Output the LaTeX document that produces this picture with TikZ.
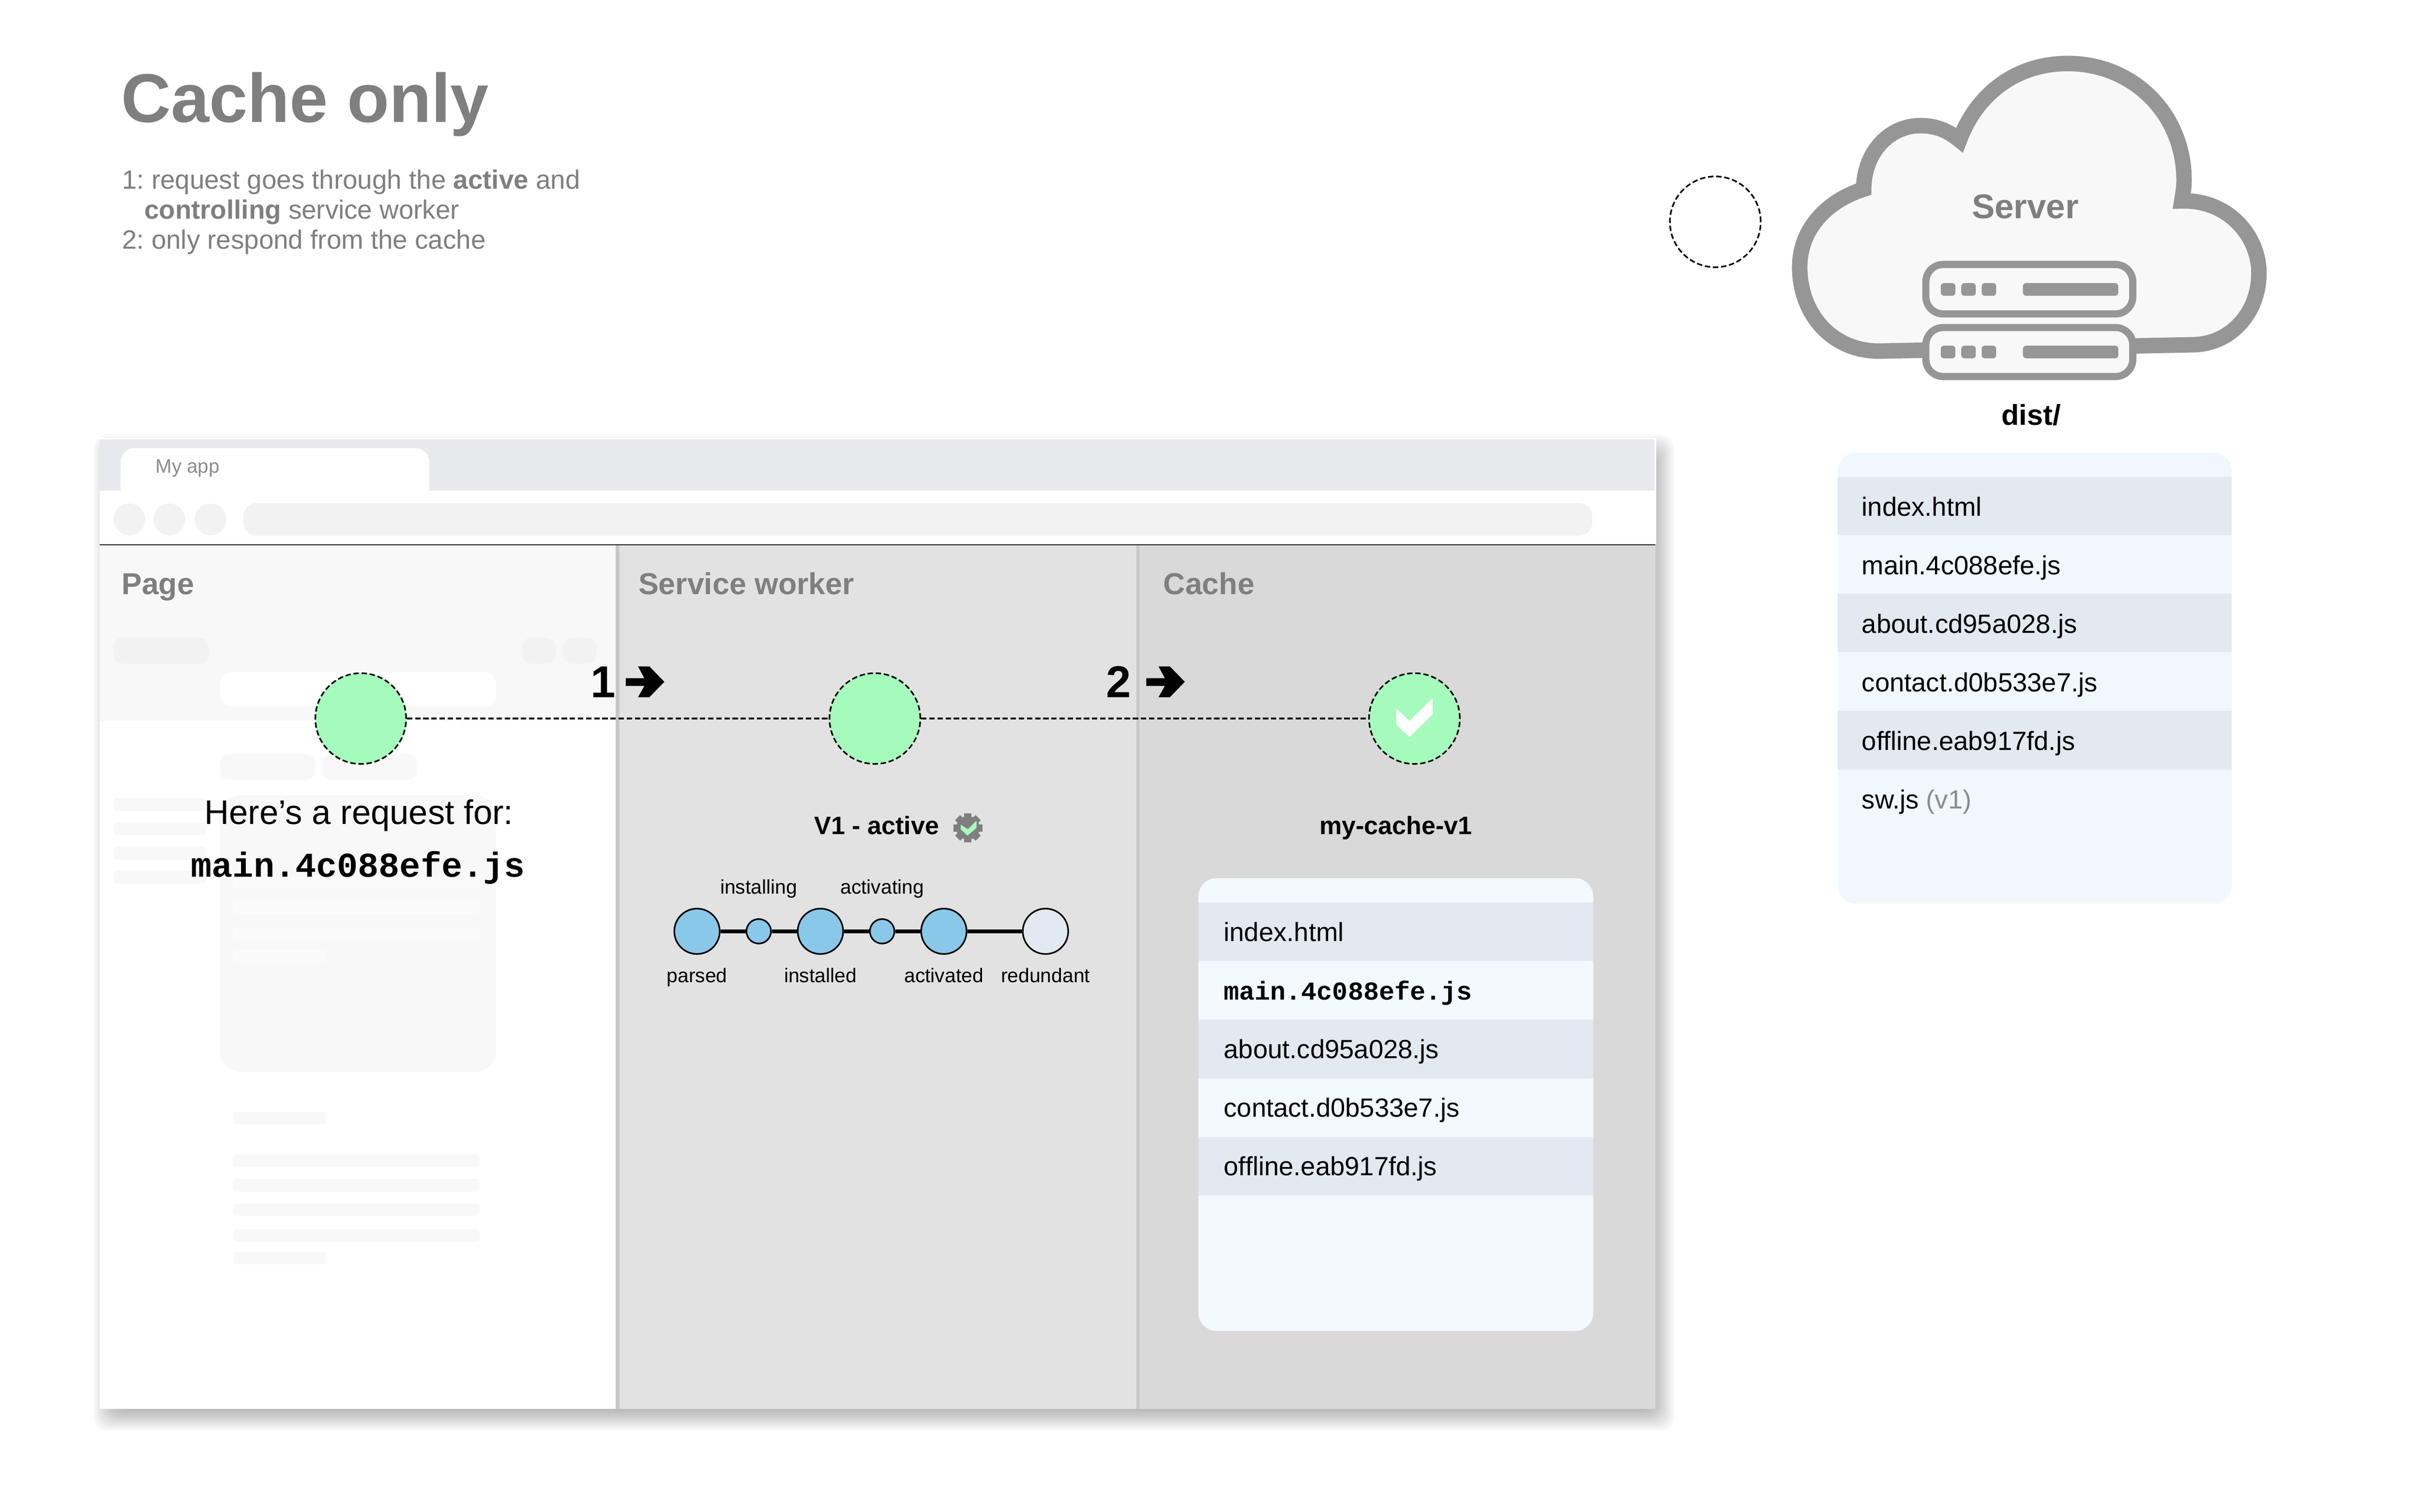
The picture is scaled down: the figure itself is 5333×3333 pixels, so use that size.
\documentclass[tikz,border=0pt]{standalone}
\usepackage{fontspec}
\setmainfont{Liberation Sans}
\setmonofont{Liberation Mono}
\frenchspacing
\definecolor{txtgray}{HTML}{7F7F7F}
\definecolor{cloudgray}{HTML}{969696}
\definecolor{cloudfill}{HTML}{F8F8F8}
\definecolor{reqgreen}{HTML}{A5FBBB}
\definecolor{lifeblue}{HTML}{89C8E8}
\definecolor{rowdark}{HTML}{E2E9F0}
\definecolor{rowlight}{HTML}{F0F7FD}
\definecolor{cachelight}{HTML}{F2F9FF}
\definecolor{strip}{HTML}{E8E9ED}
\definecolor{divider}{HTML}{C8C8C8}
\definecolor{swbg}{HTML}{E2E2E2}
\definecolor{cachebg}{HTML}{D9D9D9}
\definecolor{skelA}{HTML}{F2F2F2}
\definecolor{skelB}{HTML}{F8F8F8}
\definecolor{skelC}{HTML}{FAFAFA}
\tikzset{
  txt/.style={inner sep=0pt,outer sep=0pt,anchor=base west},
  ctxt/.style={inner sep=0pt,outer sep=0pt,anchor=base},
  titletxt/.style={txt,text=txtgray,font=\fontsize{43.2}{50}\bfseries\selectfont},
  subtxt/.style={txt,text=txtgray,font=\fontsize{16.6}{20}\selectfont},
  headtxt/.style={txt,text=txtgray,font=\fontsize{19}{22}\bfseries\selectfont},
  boldlabel/.style={ctxt,font=\fontsize{15.8}{18}\bfseries\selectfont},
  numtxt/.style={ctxt,font=\fontsize{28}{32}\bfseries\selectfont},
  lifetxt/.style={ctxt,font=\fontsize{12.4}{15}\selectfont},
  filetxt/.style={txt,font=\fontsize{16.5}{20}\selectfont},
  filebold/.style={txt,font=\fontsize{16.2}{20}\ttfamily\bfseries\selectfont},
  reqcircle/.style={circle,draw=black,fill=reqgreen,dash pattern=on 3.4pt off 1.7pt,line width=1pt,minimum size=2cm,inner sep=0pt},
  reqline/.style={draw=black,dash pattern=on 3.4pt off 1.7pt,line width=1pt},
  lifebig/.style={circle,draw=black,fill=lifeblue,line width=1pt,minimum size=1cm,inner sep=0pt},
  lifesmall/.style={circle,draw=black,fill=lifeblue,line width=1pt,minimum size=.54cm,inner sep=0pt},
  lifeline/.style={draw=black,line width=2.3pt},
  skelr/.style={rounded corners=.06cm},
  rack/.style={draw=cloudgray,fill=cloudfill,line width=4.5pt,rounded corners=.38cm},
  rackpart/.style={fill=cloudgray,rounded corners=.07cm},
}
\begin{document}
\begin{tikzpicture}[x=0.01cm,y=-0.01cm]
\useasboundingbox (0,0) rectangle (5333,3333);
\fill[white] (0,0) rectangle (5333,3333);
% shadow of browser
\foreach \n in {1,...,18}{
  \pgfmathsetmacro{\e}{36-4*\n}
  \fill[black,opacity=.022,rounded corners=.3cm] (238-\e,990-\e) rectangle (3658+\e,3122+\e);
}
% browser
\fill[white] (220,965) rectangle (3650,3106);
\fill[strip] (220,968) rectangle (3646,1082);
\fill[white,rounded corners=.3cm] (266,1082) -- (266,988) -- (946,988) -- (946,1082) -- cycle;
\fill[white] (266,1050) rectangle (946,1082);
\node[txt,text=txtgray!90,font=\fontsize{12.2}{15}\selectfont] (tab) at (343,1043) {My app};
\foreach \x in {285,373,464}{\fill[skelA] (\x,1145) circle (35);}
\fill[skelA,rounded corners=.3cm] (536,1109) rectangle (3509,1181);
% columns
\fill[skelB] (220,1201) rectangle (1357,1589);
\fill[swbg] (1365,1201) rectangle (2504,3106);
\fill[cachebg] (2511,1201) rectangle (3648,3106);
\fill[divider] (1357,1201) rectangle (1365,3106);
\fill[divider] (2504,1201) rectangle (2511,3106);
\fill[divider] (3648,1201) rectangle (3654,3106);
\draw[black,line width=.4pt] (220,1201) -- (3648,1201);
% skeleton
\fill[skelA,rounded corners=.2cm] (250,1406) rectangle (460,1463);
\fill[skelA,rounded corners=.2cm] (1151,1406) rectangle (1225,1463);
\fill[skelA,rounded corners=.2cm] (1241,1406) rectangle (1315,1463);
\fill[white,rounded corners=.25cm] (485,1482) rectangle (1093,1557);
\fill[skelB,rounded corners=.2cm] (485,1663) rectangle (695,1719);
\fill[skelB,rounded corners=.2cm] (710,1663) rectangle (920,1719);
\fill[skelB,rounded corners=.45cm] (485,1753) rectangle (1093,2363);
\foreach \a/\b in {1759/1788,1814/1841,1867/1895,1920/1948}{\fill[skelB,skelr] (250,\a) rectangle (453,\b);}
\foreach \a/\b in {1932/1960,1987/2015,2044/2073}{\fill[skelC,skelr] (513,\a) rectangle (1057,\b);}
\fill[skelC,skelr] (513,2094) rectangle (718,2122);
\fill[skelB,skelr] (513,2451) rectangle (718,2479);
\foreach \a/\b in {2545/2572,2599/2627,2653/2680,2710/2738}{\fill[skelB,skelr] (513,\a) rectangle (1057,\b);}
\fill[skelB,skelr] (513,2760) rectangle (718,2787);
% heads
\node[titletxt] (title) at (267,269) {Cache only};
\node[subtxt] (s1) at (269,417) {1: request goes through the \textbf{active} and};
\node[subtxt] (s2) at (318,483) {\textbf{controlling} service worker};
\node[subtxt] (s3) at (269,549) {2: only respond from the cache};
\node[headtxt] (hpage) at (268,1310) {Page};
\node[headtxt] (hsw) at (1407,1310) {Service worker};
\node[headtxt] (hcache) at (2564,1310) {Cache};
% request
\node[reqcircle] (c1) at (795,1584) {};
\node[reqcircle] (c2) at (1928,1584) {};
\node[reqcircle] (c3) at (3117,1584) {};
\draw[reqline] (c1) -- (c2);
\draw[reqline] (c2) -- (c3);
\fill[white] (3077,1562) -- (3106,1589) -- (3157,1539.5) -- (3157,1575) -- (3106,1625) -- (3077,1597) -- cycle;
\node[numtxt] (n1) at (1329,1537) {1};
\node[numtxt] (n2) at (2465,1537) {2};
\foreach \d in {0,1147}{
  \fill[black,xshift=\d*0.01cm] (1379,1495) -- (1420,1495) -- (1406,1469) -- (1431,1469) -- (1464,1503) -- (1431,1537) -- (1406,1537) -- (1420,1512) -- (1379,1512) -- cycle;
}
\node[ctxt,font=\fontsize{21.4}{24}\selectfont] (req1) at (791,1817) {Here’s a request for:};
\node[ctxt,font=\fontsize{21.8}{24}\ttfamily\bfseries\selectfont] (req2) at (789,1933) {main.4c088efe.js};
% V1
\node[boldlabel] (v1) at (1932,1839) {V1 - active};
\fill[txtgray] (2133,1825) circle (26);
\foreach \a in {0,45,90,135}{
  \fill[txtgray,rotate around={\a:(2133,1825)}] (2125,1793) rectangle (2141,1857);
}
\fill[reqgreen] (2117,1818) -- (2133,1828) -- (2152,1809) -- (2152,1825) -- (2132,1842) -- (2117,1828) -- cycle;
\node[boldlabel] (mc) at (3076,1839) {my-cache-v1};
% lifecycle
\node[lifebig] (l1) at (1536,2053) {};
\node[lifesmall] (l2) at (1672,2053) {};
\node[lifebig] (l3) at (1808,2053) {};
\node[lifesmall] (l4) at (1944,2053) {};
\node[lifebig] (l5) at (2080,2053) {};
\node[lifebig,fill=rowdark] (l6) at (2304,2053) {};
\draw[lifeline] (l1) -- (l2);
\draw[lifeline] (l2) -- (l3);
\draw[lifeline] (l3) -- (l4);
\draw[lifeline] (l4) -- (l5);
\draw[lifeline] (l5) -- (l6);
\node[lifetxt] (t2) at (1672,1970) {installing};
\node[lifetxt] (t4) at (1944,1970) {activating};
\node[lifetxt] (t1) at (1536,2166) {parsed};
\node[lifetxt] (t3) at (1808,2166) {installed};
\node[lifetxt] (t5) at (2080,2166) {activated};
\node[lifetxt] (t6) at (2304,2166) {redundant};
% cache list
\fill[cachelight,rounded corners=.4cm] (2641,1936) rectangle (3511,2934);
\fill[rowdark] (2641,1989) rectangle (3511,2118);
\fill[rowdark] (2641,2247) rectangle (3511,2377);
\fill[rowdark] (2641,2506) rectangle (3511,2635);
\node[filetxt] (cf1) at (2697,2075) {index.html};
\node[filebold] (cf2) at (2697,2204) {main.4c088efe.js};
\node[filetxt] (cf3) at (2697,2333) {about.cd95a028.js};
\node[filetxt] (cf4) at (2697,2462) {contact.d0b533e7.js};
\node[filetxt] (cf5) at (2697,2591) {offline.eab917fd.js};
% dashed empty circle
\node[reqcircle,fill=white] (c0) at (3780,489) {};
% cloud
\draw[draw=cloudgray,fill=cloudfill,line width=9.7pt,line join=miter,miter limit=10]
  (4107,417) .. controls (4020,445) and (3966,510) .. (3966,589)
  .. controls (3966,690) and (4035,774) .. (4141,774)
  -- (4830,760)
  .. controls (4915,760) and (4978,690) .. (4978,602)
  .. controls (4978,520) and (4910,440) .. (4808,443)
  .. controls (4811,425) and (4813,410) .. (4813,398)
  .. controls (4813,250) and (4700,140) .. (4557,140)
  .. controls (4440,140) and (4355,210) .. (4318,309)
  .. controls (4295,290) and (4270,277) .. (4232,277)
  .. controls (4160,277) and (4107,340) .. (4107,417) -- cycle;
\node[ctxt,text=txtgray,font=\fontsize{21.5}{25}\bfseries\selectfont] (server) at (4463,482) {Server};
\draw[rack] (4244,583) rectangle (4700,692);
\draw[rack] (4244,722) rectangle (4700,830);
\foreach \y in {624,762}{
  \foreach \x in {4277,4322,4367}{\fill[rackpart] (\x,\y) rectangle (\x+32,\y+28);}
  \fill[rackpart] (4458,\y) rectangle (4668,\y+28);
}
\node[ctxt,font=\fontsize{18}{20}\bfseries\selectfont] (dist) at (4476,937) {dist/};
% server list
\fill[rowlight,rounded corners=.4cm] (4050,998) rectangle (4918,1992);
\fill[rowdark] (4050,1052) rectangle (4918,1180);
\fill[rowdark] (4050,1309) rectangle (4918,1438);
\fill[rowdark] (4050,1567) rectangle (4918,1697);
\node[filetxt] (sf1) at (4103,1138) {index.html};
\node[filetxt] (sf2) at (4103,1267) {main.4c088efe.js};
\node[filetxt] (sf3) at (4103,1396) {about.cd95a028.js};
\node[filetxt] (sf4) at (4103,1525) {contact.d0b533e7.js};
\node[filetxt] (sf5) at (4103,1654) {offline.eab917fd.js};
\node[filetxt] (sf6) at (4103,1783) {sw.js \textcolor{txtgray!90}{(v1)}};
\end{tikzpicture}
\end{document}
